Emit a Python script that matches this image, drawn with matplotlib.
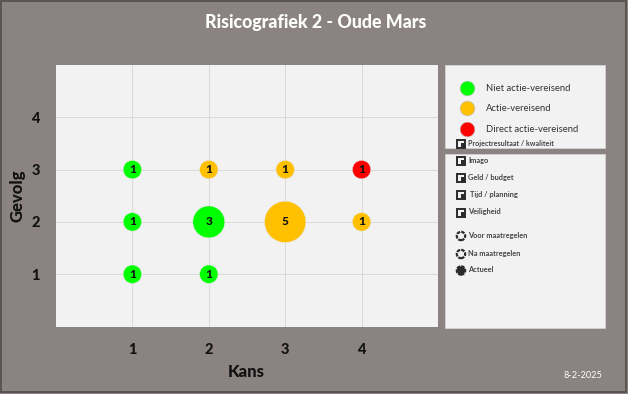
import matplotlib
matplotlib.use('Agg')
import matplotlib.pyplot as plt
from matplotlib.patches import Rectangle

plt.rcParams['font.family'] = ['Lato', 'DejaVu Sans']

W, H = 628, 394

# data
kans = [1, 2, 1, 2, 3, 4, 1, 2, 3, 4]
gevolg = [1, 1, 2, 2, 2, 2, 3, 3, 3, 3]
aantal = [1, 1, 1, 3, 5, 1, 1, 1, 1, 1]
kleur = ['g', 'g', 'g', 'g', 'o', 'o', 'g', 'o', 'o', 'r']
ticks = [1, 2, 3, 4]

kleuren = {'g': '#00ff00', 'o': '#ffc000', 'r': '#ff0000'}
status_labels = ['Niet actie-vereisend', 'Actie-vereisend', 'Direct actie-vereisend']
status_kleuren = ['#00ff00', '#ffc000', '#ff0000']
check_labels = ['Projectresultaat / kwaliteit', 'Imago', 'Geld / budget', 'Tijd / planning', 'Veiligheid']
cirkel_labels = ['Voor maatregelen', 'Na maatregelen', 'Actueel']

fig = plt.figure(figsize=(W / 100, H / 100), dpi=100, facecolor='#8a8382')


def axes_px(x0, y0, x1, y1):
    return [x0 / W, 1 - y1 / H, (x1 - x0) / W, (y1 - y0) / H]


# achtergrond en panelen in pixels
bg = fig.add_axes([0, 0, 1, 1], zorder=0)
bg.set_xlim(0, W)
bg.set_ylim(H, 0)
bg.axis('off')
bg.add_patch(Rectangle((1, 1), W - 3, H - 3, fc='none', ec='#55514f', lw=1.3))
bg.add_patch(Rectangle((445, 65), 160, 83, fc='#f2f2f2', ec='#d9d9d9', lw=0.5))
bg.add_patch(Rectangle((445, 154), 160, 174, fc='#f2f2f2', ec='#d9d9d9', lw=0.5))

bg.text(316, 22, 'Risicografiek 2 - Oude Mars', color='white', fontsize=12.8,
        fontweight='black', ha='center', va='center')
bg.text(583, 375, '8-2-2025', color='white', fontsize=6.6, ha='center', va='center')

# legenda status
for y, lab, c in zip([88, 108, 129], status_labels, status_kleuren):
    bg.scatter([466.5], [y], s=112, c=c, edgecolors='#bdbdbd', linewidths=0.4)
    bg.text(485.5, y, lab, fontsize=6.8, color='#333333', va='center')

# legenda selectievakjes
for y, lab, tx in zip([143.5, 160.5, 177.5, 194.5, 212], check_labels, [468, 468, 468, 470, 468]):
    bg.add_patch(Rectangle((457, y - 3.5), 8, 8, fc='#f2f2f2', ec='#2b2b2b', lw=1.4))
    bg.add_patch(Rectangle((460.5, y - 0.5), 4.5, 5, fc='#2b2b2b', ec='none'))
    fs = 5.1 if y < 150 else 5.3
    bg.text(tx, y - 0.5, lab, fontsize=fs, color='#444444', fontweight='bold', va='center')

# legenda cirkels
for y, lab, vol in zip([236, 254, 270.5], cirkel_labels, [False, False, True]):
    bg.scatter([461], [y], s=36, c='#2b2b2b' if vol else '#f2f2f2',
               edgecolors='#2b2b2b', linewidths=1.6, linestyle=(0, (1.6, 0.5)))
    bg.text(468, y - 0.5, lab, fontsize=5.3, color='#444444', fontweight='bold', va='center')

# grafiek
ax = fig.add_axes(axes_px(56, 65, 438, 326.5), zorder=1, facecolor='#f2f2f2')
ax.set_xlim(0, 5)
ax.set_ylim(0, 5)
ax.set_xticks(ticks)
ax.set_yticks(ticks)
ax.grid(color='#d9d9d9', lw=0.7)
ax.set_axisbelow(True)
ax.tick_params(length=0, labelsize=10.5)
ax.tick_params(axis='x', pad=12)
ax.tick_params(axis='y', pad=11.5)
for lab in ax.get_xticklabels() + ax.get_yticklabels():
    lab.set_fontweight('black')
    lab.set_color('#111111')
for s in ax.spines.values():
    s.set_visible(False)

ax.scatter(kans, gevolg, s=[a * (18.5 * 0.72) ** 2 for a in aantal],
           c=[kleuren[k] for k in kleur], edgecolors='#e8e8e8', linewidths=0.4, zorder=3)
for x, y, a in zip(kans, gevolg, aantal):
    ax.text(x, y, str(a), fontsize=8.5, fontweight='black', color='#111111',
            ha='center', va='center', zorder=4)

bg.text(246, 372, 'Kans', fontsize=12, fontweight='black', color='#111111', ha='center', va='center')
bg.text(18, 196, 'Gevolg', fontsize=12, fontweight='black', color='#111111', ha='center',
        va='center', rotation=90)

fig.savefig('out.png', dpi=100, facecolor=fig.get_facecolor())
